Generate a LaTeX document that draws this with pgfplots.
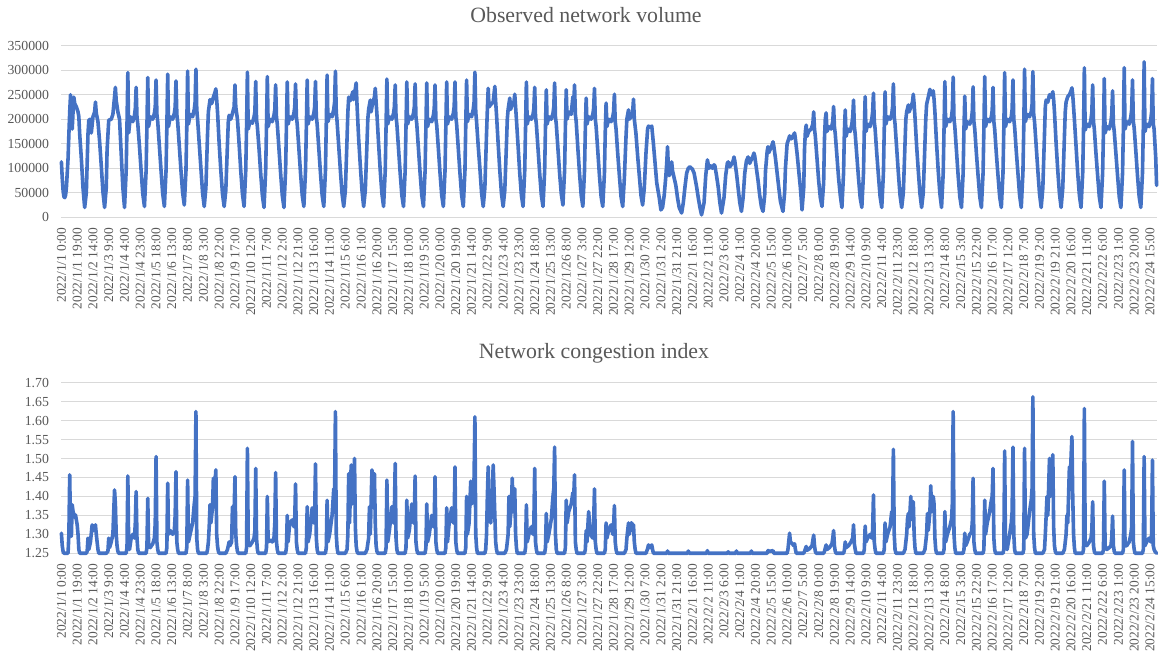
\documentclass[border=0pt]{standalone}
\usepackage{fontspec}
\setmainfont{Liberation Serif}
\usepackage{pgfplots}
\pgfplotsset{compat=1.18}
\definecolor{linec}{HTML}{4472C4}
\definecolor{txt}{HTML}{595959}
\definecolor{gridc}{HTML}{D9D9D9}
\pgfplotsset{base/.style={
  scale only axis, width=548pt, xmin=-0.5, xmax=1319.5,
  axis line style={draw=none},
  major tick length=0pt,
  ymajorgrids, grid style={draw=gridc, line width=0.6pt},
  xtick={0,19,...,1311},
  xticklabels={2022/1/1 0:00, 2022/1/1 19:00, 2022/1/2 14:00, 2022/1/3 9:00, 2022/1/4 4:00, 2022/1/4 23:00, 2022/1/5 18:00, 2022/1/6 13:00, 2022/1/7 8:00, 2022/1/8 3:00, 2022/1/8 22:00, 2022/1/9 17:00, 2022/1/10 12:00, 2022/1/11 7:00, 2022/1/12 2:00, 2022/1/12 21:00, 2022/1/13 16:00, 2022/1/14 11:00, 2022/1/15 6:00, 2022/1/16 1:00, 2022/1/16 20:00, 2022/1/17 15:00, 2022/1/18 10:00, 2022/1/19 5:00, 2022/1/20 0:00, 2022/1/20 19:00, 2022/1/21 14:00, 2022/1/22 9:00, 2022/1/23 4:00, 2022/1/23 23:00, 2022/1/24 18:00, 2022/1/25 13:00, 2022/1/26 8:00, 2022/1/27 3:00, 2022/1/27 22:00, 2022/1/28 17:00, 2022/1/29 12:00, 2022/1/30 7:00, 2022/1/31 2:00, 2022/1/31 21:00, 2022/2/1 16:00, 2022/2/2 11:00, 2022/2/3 6:00, 2022/2/4 1:00, 2022/2/4 20:00, 2022/2/5 15:00, 2022/2/6 10:00, 2022/2/7 5:00, 2022/2/8 0:00, 2022/2/8 19:00, 2022/2/9 14:00, 2022/2/10 9:00, 2022/2/11 4:00, 2022/2/11 23:00, 2022/2/12 18:00, 2022/2/13 13:00, 2022/2/14 8:00, 2022/2/15 3:00, 2022/2/15 22:00, 2022/2/16 17:00, 2022/2/17 12:00, 2022/2/18 7:00, 2022/2/19 2:00, 2022/2/19 21:00, 2022/2/20 16:00, 2022/2/21 11:00, 2022/2/22 6:00, 2022/2/23 1:00, 2022/2/23 20:00, 2022/2/24 15:00},
  xticklabel style={rotate=90, anchor=east, font=\fontsize{6.7}{7}\selectfont, text=txt, inner sep=0pt},
  xticklabel shift=5pt,
  yticklabel style={font=\fontsize{6.9}{8}\selectfont, text=txt, inner sep=0pt},
  yticklabel shift=5.8pt,
  /pgf/number format/assume math mode=true,
  clip=false,
  cycle list={{draw=linec, line width=1.8pt, line join=round, line cap=round, mark=none}},
}}
\begin{document}
\begin{tikzpicture}
\path[use as bounding box] (0,0) rectangle (580.5pt,328pt);
\node[anchor=base, font=\fontsize{10.9}{12}\selectfont, text=txt] at (293pt,316.5pt) {Observed network volume};
\node[anchor=base, font=\fontsize{10.9}{12}\selectfont, text=txt] at (297pt,148.85pt) {Network congestion index};
\begin{axis}[base, at={(30.5pt,219.35pt)}, anchor=south west, height=85.8pt,
  ymin=0, ymax=350000, ytick={0,50000,100000,150000,200000,250000,300000,350000},
  scaled y ticks=false, yticklabel style={/pgf/number format/.cd, fixed, 1000 sep={}}]
\addplot[draw=linec, line width=1.8pt, line join=round, line cap=round, mark=none] coordinates {
(0,113000)(1,80000)(2,55000)(3,42000)(4,40000)(5,45000)(6,60000)(8,120000)(9,170000)(10,215000)(11,250000)(12,200000)(13,180000)(14,215000)(15,245000)(16,232000)(18,225000)(20,215000)(21,205000)(22,170000)
(24,120000)(26,60000)(28,20000)(30,50000)(32,170000)(33,198000)(35,200000)(36,172000)(38,205000)(40,215000)(41,235000)(42,212000)(44,195000)(46,155000)
(48,105000)(50,52000)(52,20000)(54,60000)(55,137000)(57,198000)(60,200000)(62,210000)(64,246000)(65,265000)(66,238000)(68,215000)(70,200000)
(72,130000)(74,60000)(76,20000)(78,95000)(79,190000)(80,295000)(81,172000)(83,205000)(86,195000)(88,208000)(89,222000)(90,265000)(91,205000)(92,190000)(94,145000)
(96,95000)(98,48000)(100,22000)(102,95000)(103,185000)(104,285000)(105,185000)(107,205000)(110,200000)(112,212000)(113,225000)(114,280000)(115,210000)(116,195000)(118,145000)
(120,95000)(122,48000)(124,22000)(126,95000)(127,185000)(128,292000)(129,185000)(131,205000)(134,200000)(136,212000)(137,225000)(138,278000)(139,210000)(140,195000)(142,145000)
(144,95000)(146,50000)(148,25000)(150,95000)(151,185000)(152,298000)(153,190000)(155,210000)(158,205000)(160,220000)(161,235000)(162,302000)(163,220000)(164,200000)(166,150000)
(168,100000)(170,50000)(172,22000)(174,60000)(176,170000)(177,215000)(179,240000)(181,232000)(183,245000)(185,255000)(186,262000)(187,240000)(188,215000)(190,150000)
(192,95000)(194,48000)(196,22000)(198,55000)(200,150000)(201,195000)(202,208000)(204,200000)(206,212000)(208,225000)(209,270000)(210,225000)(212,200000)(214,150000)
(216,95000)(218,48000)(220,22000)(222,95000)(223,185000)(224,296000)(225,180000)(227,195000)(230,192000)(232,205000)(233,215000)(234,277000)(235,200000)(236,185000)(238,140000)
(240,90000)(242,45000)(244,20000)(246,95000)(247,185000)(248,287000)(249,185000)(251,200000)(254,195000)(256,208000)(257,220000)(258,270000)(259,205000)(260,190000)(262,140000)
(264,90000)(266,45000)(268,20000)(270,95000)(271,185000)(272,276000)(273,190000)(275,205000)(278,200000)(280,212000)(281,225000)(282,272000)(283,205000)(284,190000)(286,140000)
(288,90000)(290,45000)(292,22000)(294,95000)(295,185000)(296,280000)(297,190000)(299,205000)(302,200000)(304,212000)(305,225000)(306,277000)(307,205000)(308,190000)(310,140000)
(312,90000)(314,45000)(316,22000)(318,95000)(319,190000)(320,290000)(321,195000)(323,210000)(326,205000)(328,220000)(329,235000)(330,298000)(331,215000)(332,195000)(334,145000)
(336,95000)(338,48000)(340,22000)(342,55000)(344,160000)(345,215000)(346,245000)(348,238000)(350,250000)(351,256000)(352,240000)(354,262000)(355,274000)(356,230000)(358,160000)
(360,105000)(362,55000)(364,22000)(366,55000)(368,150000)(369,200000)(370,220000)(372,239000)(373,215000)(375,235000)(377,245000)(378,263000)(379,235000)(380,210000)(382,150000)
(384,95000)(386,48000)(388,22000)(390,95000)(391,185000)(392,282000)(393,190000)(395,205000)(398,200000)(400,212000)(401,225000)(402,270000)(403,205000)(404,190000)(406,140000)
(408,90000)(410,45000)(412,22000)(414,95000)(415,185000)(416,276000)(417,190000)(419,205000)(422,200000)(424,212000)(425,225000)(426,272000)(427,205000)(428,190000)(430,140000)
(432,90000)(434,45000)(436,22000)(438,95000)(439,185000)(440,274000)(441,185000)(443,200000)(446,195000)(448,208000)(449,222000)(450,270000)(451,200000)(452,188000)(454,140000)
(456,90000)(458,45000)(460,22000)(462,95000)(463,185000)(464,276000)(465,190000)(467,205000)(470,200000)(472,212000)(473,225000)(474,276000)(475,205000)(476,190000)(478,140000)
(480,90000)(482,45000)(484,22000)(486,95000)(487,190000)(488,280000)(489,195000)(491,210000)(494,205000)(496,220000)(497,235000)(498,296000)(499,215000)(500,195000)(502,145000)
(504,100000)(506,50000)(508,22000)(510,60000)(512,170000)(513,220000)(514,263000)(515,225000)(517,230000)(520,235000)(522,267000)(523,235000)(524,210000)(526,150000)
(528,95000)(530,48000)(532,22000)(534,55000)(536,150000)(537,200000)(538,220000)(540,243000)(541,220000)(543,230000)(545,235000)(546,251000)(547,225000)(548,200000)(550,145000)
(552,90000)(554,45000)(556,22000)(558,95000)(559,185000)(560,276000)(561,190000)(563,205000)(566,200000)(568,210000)(569,222000)(570,265000)(571,205000)(572,190000)(574,140000)
(576,90000)(578,45000)(580,22000)(582,95000)(583,185000)(584,260000)(585,190000)(587,205000)(590,200000)(592,212000)(593,225000)(594,274000)(595,205000)(596,190000)(598,140000)
(600,90000)(602,48000)(604,25000)(606,95000)(607,185000)(608,260000)(609,200000)(611,215000)(614,210000)(616,246000)(617,230000)(618,270000)(619,210000)(620,195000)(622,140000)
(624,90000)(626,45000)(628,22000)(630,95000)(631,180000)(632,243000)(633,190000)(635,205000)(638,200000)(640,210000)(641,222000)(642,263000)(643,200000)(644,185000)(646,135000)
(648,85000)(650,42000)(652,22000)(654,90000)(655,175000)(656,233000)(657,185000)(659,200000)(662,195000)(664,205000)(665,215000)(666,251000)(667,195000)(668,180000)(670,130000)
(672,85000)(674,42000)(676,22000)(678,80000)(680,165000)(681,200000)(683,219000)(684,200000)(686,205000)(688,215000)(689,241000)(690,200000)(692,170000)(694,125000)
(696,85000)(698,45000)(700,25000)(702,60000)(704,130000)(706,180000)(707,186000)(709,183000)(711,186000)(713,150000)(715,110000)(717,70000)
(720,40000)(722,15000)(724,20000)(726,45000)(728,85000)(729,110000)(730,144000)(731,100000)(732,85000)(734,95000)(735,113000)(736,95000)(738,80000)(740,65000)(742,40000)
(744,20000)(747,8700)(749,30000)(751,62000)(753,90000)(755,100000)(757,103000)(760,98000)(762,90000)(765,62000)(767,40000)
(769,20000)(771,5000)(774,30000)(776,85000)(778,117000)(780,100000)(782,105000)(784,100000)(786,107000)(787,105000)(789,85000)(791,62000)(793,30000)
(795,8700)(798,40000)(800,85000)(802,110000)(803,113000)(805,103000)(807,108000)(809,115000)(810,123000)(811,115000)(813,90000)(815,60000)(817,30000)
(819,12000)(821,40000)(823,90000)(825,115000)(827,123000)(829,110000)(831,118000)(833,125000)(834,131000)(835,125000)(837,100000)(839,75000)(841,45000)(843,22000)
(845,12000)(847,45000)(848,95000)(850,135000)(851,144000)(852,132000)(854,140000)(856,148000)(857,154000)(858,145000)(860,120000)(862,90000)(864,60000)(866,32000)
(869,12000)(871,50000)(872,100000)(874,150000)(876,160000)(877,166000)(879,160000)(881,165000)(883,172000)(884,160000)(886,130000)(888,95000)(890,60000)
(892,15000)(894,60000)(895,140000)(896,175000)(897,188000)(898,165000)(900,175000)(903,180000)(905,190000)(906,215000)(907,180000)(908,165000)(910,120000)(912,75000)(914,40000)
(916,22000)(918,70000)(919,160000)(920,200000)(921,213000)(922,175000)(924,185000)(927,180000)(929,195000)(930,226000)(931,185000)(932,170000)(934,125000)(936,80000)(938,45000)
(940,20000)(942,90000)(943,175000)(944,219000)(945,165000)(947,180000)(950,175000)(952,190000)(953,205000)(954,239000)(955,185000)(956,170000)(958,125000)
(960,80000)(962,40000)(964,20000)(966,90000)(967,180000)(968,246000)(969,175000)(971,190000)(974,185000)(976,200000)(977,215000)(978,253000)(979,195000)(980,180000)(982,130000)
(984,85000)(986,42000)(988,20000)(990,90000)(991,180000)(992,256000)(993,190000)(995,205000)(998,200000)(1000,210000)(1001,225000)(1002,272000)(1003,205000)(1004,190000)(1006,140000)
(1008,90000)(1010,45000)(1012,20000)(1014,50000)(1016,150000)(1017,200000)(1018,215000)(1020,229000)(1021,215000)(1023,225000)(1025,235000)(1026,251000)(1027,230000)(1028,205000)(1030,145000)
(1032,95000)(1034,48000)(1036,20000)(1038,50000)(1040,150000)(1041,200000)(1042,230000)(1044,245000)(1046,261000)(1047,250000)(1049,252000)(1050,258000)(1051,240000)(1052,215000)(1054,150000)
(1056,95000)(1058,48000)(1060,20000)(1062,90000)(1063,180000)(1064,277000)(1065,185000)(1067,200000)(1070,195000)(1072,205000)(1073,220000)(1074,286000)(1075,200000)(1076,185000)(1078,135000)
(1080,85000)(1082,42000)(1084,20000)(1086,90000)(1087,180000)(1088,247000)(1089,180000)(1091,195000)(1094,190000)(1096,200000)(1097,215000)(1098,266000)(1099,195000)(1100,180000)(1102,130000)
(1104,85000)(1106,42000)(1108,20000)(1110,90000)(1111,180000)(1112,287000)(1113,185000)(1115,200000)(1118,195000)(1120,205000)(1121,218000)(1122,265000)(1123,195000)(1124,180000)(1126,130000)
(1128,85000)(1130,42000)(1132,20000)(1134,90000)(1135,180000)(1136,295000)(1137,185000)(1139,200000)(1142,195000)(1144,205000)(1145,220000)(1146,280000)(1147,200000)(1148,185000)(1150,135000)
(1152,90000)(1154,45000)(1156,20000)(1158,90000)(1159,180000)(1160,302000)(1161,195000)(1163,210000)(1166,205000)(1168,215000)(1169,230000)(1170,297000)(1171,210000)(1172,195000)(1174,145000)
(1176,95000)(1178,48000)(1180,20000)(1182,60000)(1184,170000)(1185,226000)(1186,239000)(1188,235000)(1190,250000)(1192,245000)(1194,256000)(1195,240000)(1196,215000)(1198,150000)
(1200,95000)(1202,48000)(1204,20000)(1206,60000)(1208,165000)(1209,215000)(1210,235000)(1212,246000)(1214,250000)(1216,258000)(1217,264000)(1218,250000)(1219,225000)(1220,200000)(1222,145000)
(1224,90000)(1226,45000)(1228,20000)(1230,90000)(1231,180000)(1232,305000)(1233,178000)(1235,190000)(1238,185000)(1240,200000)(1241,215000)(1242,270000)(1243,195000)(1244,180000)(1246,130000)
(1248,85000)(1250,42000)(1252,20000)(1254,90000)(1255,175000)(1256,283000)(1257,172000)(1259,185000)(1262,180000)(1264,195000)(1265,210000)(1266,258000)(1267,190000)(1268,175000)(1270,130000)
(1272,85000)(1274,42000)(1276,20000)(1278,90000)(1279,180000)(1280,305000)(1281,180000)(1283,195000)(1286,190000)(1288,205000)(1289,220000)(1290,280000)(1291,195000)(1292,182000)(1294,135000)
(1296,85000)(1298,42000)(1300,20000)(1302,90000)(1303,180000)(1304,317000)(1305,175000)(1307,190000)(1310,185000)(1312,200000)(1313,215000)(1314,283000)(1315,190000)(1316,180000)(1318,120000)(1319,65000)
};
\end{axis}
\begin{axis}[base, at={(30.5pt,51.35pt)}, anchor=south west, height=85.3pt,
  ymin=1.25, ymax=1.70, ytick={1.25,1.3,1.35,1.4,1.45,1.5,1.55,1.6,1.65,1.7},
  yticklabel style={/pgf/number format/.cd, fixed, fixed zerofill, precision=2}]
\addplot[draw=linec, line width=1.8pt, line join=round, line cap=round, mark=none] coordinates {
(0,1.303)(1,1.27)(2,1.255)(3,1.25)(8,1.25)(9,1.30)(10,1.457)(11,1.30)(12,1.295)(13,1.378)(14,1.36)(16,1.345)(17,1.351)(19,1.325)(20,1.30)(21,1.26)(22,1.25)
(30,1.25)(31,1.255)(32,1.29)(33,1.26)(35,1.28)(37,1.325)(39,1.31)(41,1.325)(42,1.30)(43,1.28)(44,1.26)(45,1.25)
(54,1.25)(56,1.255)(57,1.29)(58,1.265)(60,1.28)(62,1.30)(63,1.36)(64,1.417)(65,1.38)(66,1.30)(67,1.27)(68,1.255)(69,1.25)
(78,1.25)(79,1.265)(80,1.454)(81,1.27)(82,1.26)(84,1.29)(86,1.30)(88,1.29)(89,1.33)(90,1.413)(91,1.29)(92,1.26)(93,1.25)
(102,1.25)(103,1.265)(104,1.395)(105,1.27)(107,1.265)(110,1.275)(112,1.29)(113,1.33)(114,1.505)(115,1.28)(116,1.26)(117,1.25)
(126,1.25)(127,1.265)(128,1.435)(129,1.30)(131,1.31)(134,1.30)(136,1.31)(137,1.35)(138,1.465)(139,1.28)(140,1.26)(141,1.25)
(150,1.25)(151,1.265)(152,1.443)(153,1.28)(155,1.30)(158,1.33)(160,1.38)(161,1.40)(162,1.624)(163,1.29)(164,1.26)(165,1.25)
(175,1.25)(176,1.26)(177,1.28)(178,1.32)(179,1.378)(180,1.33)(182,1.37)(183,1.448)(184,1.40)(186,1.47)(187,1.30)(188,1.27)(189,1.255)(190,1.25)
(198,1.25)(200,1.26)(202,1.28)(203,1.27)(205,1.28)(206,1.373)(207,1.32)(208,1.36)(209,1.452)(210,1.30)(211,1.27)(212,1.255)(213,1.25)
(222,1.25)(223,1.265)(224,1.527)(225,1.28)(227,1.27)(230,1.28)(232,1.29)(233,1.31)(234,1.474)(235,1.29)(236,1.26)(237,1.25)
(246,1.25)(247,1.265)(248,1.40)(249,1.28)(251,1.285)(254,1.28)(256,1.29)(257,1.33)(258,1.463)(259,1.28)(260,1.26)(261,1.25)
(270,1.25)(271,1.265)(272,1.35)(273,1.28)(275,1.33)(278,1.338)(280,1.32)(281,1.34)(282,1.433)(283,1.28)(284,1.26)(285,1.25)
(294,1.25)(295,1.265)(296,1.373)(297,1.28)(299,1.30)(302,1.37)(304,1.33)(305,1.35)(306,1.486)(307,1.29)(308,1.26)(309,1.25)
(318,1.25)(319,1.265)(320,1.39)(321,1.28)(323,1.30)(326,1.35)(328,1.42)(329,1.40)(330,1.624)(331,1.30)(332,1.265)(333,1.25)
(342,1.25)(344,1.26)(345,1.30)(346,1.46)(347,1.33)(349,1.483)(350,1.38)(352,1.43)(353,1.50)(354,1.32)(355,1.27)(356,1.255)(357,1.25)
(366,1.25)(368,1.26)(370,1.29)(371,1.373)(372,1.30)(374,1.47)(375,1.40)(377,1.46)(378,1.33)(379,1.27)(380,1.255)(381,1.25)
(390,1.25)(391,1.265)(392,1.443)(393,1.28)(395,1.31)(398,1.373)(400,1.33)(401,1.36)(402,1.487)(403,1.29)(404,1.26)(405,1.25)
(414,1.25)(415,1.265)(416,1.39)(417,1.29)(419,1.31)(422,1.38)(424,1.33)(425,1.35)(426,1.454)(427,1.28)(428,1.26)(429,1.25)
(438,1.25)(439,1.265)(440,1.38)(441,1.28)(443,1.30)(446,1.35)(448,1.32)(449,1.34)(450,1.452)(451,1.28)(452,1.26)(453,1.25)
(462,1.25)(463,1.265)(464,1.37)(465,1.28)(467,1.33)(470,1.37)(472,1.33)(473,1.35)(474,1.478)(475,1.28)(476,1.26)(477,1.25)
(486,1.25)(487,1.265)(488,1.40)(489,1.30)(491,1.33)(493,1.44)(494,1.38)(496,1.40)(497,1.45)(498,1.61)(499,1.30)(500,1.265)(501,1.25)
(510,1.25)(511,1.26)(512,1.30)(513,1.40)(514,1.478)(515,1.38)(517,1.33)(519,1.40)(520,1.483)(521,1.42)(522,1.35)(523,1.28)(524,1.26)(525,1.25)
(534,1.25)(536,1.26)(538,1.30)(539,1.40)(540,1.32)(542,1.38)(543,1.448)(544,1.36)(546,1.42)(547,1.30)(548,1.265)(549,1.25)
(558,1.25)(559,1.265)(560,1.378)(561,1.28)(563,1.30)(566,1.32)(568,1.30)(569,1.33)(570,1.474)(571,1.28)(572,1.26)(573,1.25)
(582,1.25)(583,1.265)(584,1.355)(585,1.28)(587,1.30)(590,1.34)(592,1.40)(593,1.42)(594,1.53)(595,1.30)(596,1.26)(597,1.25)
(606,1.25)(607,1.265)(608,1.39)(609,1.33)(611,1.36)(614,1.38)(616,1.41)(617,1.40)(618,1.457)(619,1.28)(620,1.26)(621,1.25)
(630,1.25)(631,1.26)(632,1.31)(633,1.28)(635,1.36)(637,1.30)(640,1.29)(641,1.33)(642,1.42)(643,1.28)(644,1.26)(645,1.25)
(654,1.25)(655,1.26)(656,1.33)(657,1.29)(659,1.31)(662,1.325)(664,1.30)(665,1.32)(666,1.376)(667,1.28)(668,1.26)(669,1.25)
(678,1.25)(680,1.26)(681,1.29)(683,1.33)(684,1.30)(686,1.33)(687,1.33)(688,1.31)(689,1.325)(690,1.28)(691,1.26)(692,1.25)
(704,1.25)(706,1.262)(707,1.272)(709,1.265)(711,1.272)(712,1.26)(713,1.25)
(729,1.25)(730,1.256)(731,1.25)(754,1.25)(755,1.256)(756,1.25)(777,1.25)(778,1.257)(779,1.25)(802,1.25)(803,1.254)(804,1.25)(812,1.25)(813,1.256)(814,1.25)(830,1.25)(831,1.256)(832,1.25)(850,1.25)(851,1.257)(853,1.255)(857,1.257)(858,1.25)
(874,1.25)(875,1.26)(877,1.303)(878,1.28)(880,1.276)(882,1.27)(883,1.275)(884,1.26)(885,1.25)
(894,1.25)(895,1.255)(897,1.268)(898,1.258)(901,1.262)(904,1.27)(906,1.298)(907,1.27)(908,1.255)(909,1.25)
(918,1.25)(919,1.255)(921,1.272)(922,1.26)(925,1.265)(928,1.275)(929,1.29)(930,1.31)(931,1.27)(932,1.255)(933,1.25)
(942,1.25)(943,1.258)(944,1.28)(945,1.265)(948,1.27)(951,1.28)(953,1.29)(954,1.325)(955,1.275)(956,1.26)(957,1.25)
(966,1.25)(967,1.26)(968,1.322)(969,1.28)(971,1.29)(974,1.30)(976,1.29)(977,1.31)(978,1.404)(979,1.28)(980,1.26)(981,1.25)
(990,1.25)(991,1.26)(992,1.33)(993,1.28)(995,1.30)(998,1.32)(1000,1.36)(1001,1.35)(1002,1.524)(1003,1.30)(1004,1.26)(1005,1.25)
(1014,1.25)(1016,1.26)(1018,1.30)(1019,1.34)(1020,1.355)(1021,1.32)(1023,1.40)(1024,1.34)(1026,1.386)(1027,1.30)(1028,1.265)(1029,1.25)
(1038,1.25)(1040,1.26)(1042,1.30)(1043,1.355)(1044,1.31)(1046,1.36)(1047,1.428)(1048,1.36)(1050,1.40)(1051,1.38)(1052,1.29)(1053,1.26)(1054,1.25)
(1062,1.25)(1063,1.26)(1064,1.36)(1065,1.28)(1067,1.30)(1070,1.32)(1072,1.34)(1073,1.38)(1074,1.624)(1075,1.30)(1076,1.265)(1077,1.25)
(1086,1.25)(1087,1.26)(1088,1.303)(1089,1.27)(1091,1.28)(1094,1.30)(1096,1.305)(1097,1.33)(1098,1.448)(1099,1.28)(1100,1.26)(1101,1.25)
(1110,1.25)(1111,1.26)(1112,1.39)(1113,1.30)(1115,1.33)(1118,1.36)(1120,1.39)(1121,1.40)(1122,1.474)(1123,1.29)(1124,1.26)(1125,1.25)
(1134,1.25)(1135,1.26)(1136,1.52)(1137,1.27)(1139,1.26)(1142,1.30)(1144,1.33)(1145,1.36)(1146,1.53)(1147,1.30)(1148,1.26)(1149,1.25)
(1158,1.25)(1159,1.26)(1160,1.527)(1161,1.29)(1163,1.30)(1166,1.36)(1168,1.39)(1169,1.42)(1170,1.663)(1171,1.30)(1172,1.265)(1173,1.25)
(1182,1.25)(1184,1.26)(1185,1.30)(1187,1.40)(1188,1.35)(1190,1.50)(1191,1.40)(1193,1.45)(1194,1.51)(1195,1.32)(1196,1.27)(1197,1.255)(1198,1.25)
(1206,1.25)(1208,1.26)(1210,1.30)(1211,1.35)(1212,1.33)(1214,1.478)(1215,1.45)(1217,1.558)(1218,1.40)(1219,1.30)(1220,1.265)(1221,1.25)
(1230,1.25)(1231,1.26)(1232,1.632)(1233,1.28)(1235,1.27)(1238,1.28)(1240,1.29)(1241,1.31)(1242,1.386)(1243,1.27)(1244,1.255)(1245,1.25)
(1254,1.25)(1255,1.26)(1256,1.44)(1257,1.27)(1259,1.26)(1262,1.265)(1264,1.27)(1265,1.29)(1266,1.348)(1267,1.27)(1268,1.255)(1269,1.25)
(1278,1.25)(1279,1.26)(1280,1.47)(1281,1.27)(1283,1.27)(1286,1.28)(1288,1.30)(1289,1.32)(1290,1.545)(1291,1.28)(1292,1.26)(1293,1.25)
(1302,1.25)(1303,1.26)(1304,1.505)(1305,1.27)(1307,1.28)(1310,1.29)(1312,1.28)(1313,1.30)(1314,1.496)(1315,1.27)(1316,1.26)(1317,1.255)(1319,1.25)
};
\end{axis}
\end{tikzpicture}
\end{document}
